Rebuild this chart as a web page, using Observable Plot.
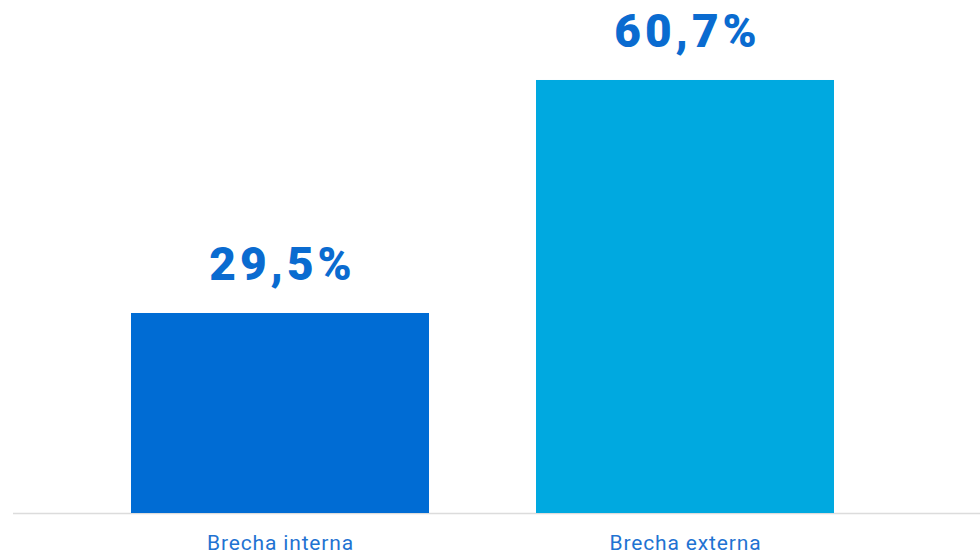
<!DOCTYPE html>
<html>
<head>
<meta charset="utf-8">
<script src="https://cdn.jsdelivr.net/npm/d3@7"></script>
<script src="https://cdn.jsdelivr.net/npm/@observablehq/plot@0.6"></script>
<style>
  html, body { margin: 0; padding: 0; background: #fff; }
  #chart svg { display: block; }
</style>
</head>
<body>
<div id="chart"></div>
<script>
const categories = ["Brecha interna", "Brecha externa"];
const values = [29.5, 60.7];
const labels = ["29,5%", "60,7%"];
const colors = ["#006cd4", "#00a9e0"];

const data = categories.map((c, i) => ({category: c, value: values[i], label: labels[i], color: colors[i]}));

const chart = Plot.plot({
  width: 980,
  height: 559,
  marginLeft: 13,
  marginRight: 0,
  marginTop: 0,
  marginBottom: 46,
  style: {fontFamily: "Roboto, sans-serif", background: "#fff"},
  x: {domain: categories, paddingInner: 0.2635, paddingOuter: 0.3227, align: 0.4466, label: null, tickSize: 0, tickPadding: 22},
  y: {domain: [2.72, 71.41], clamp: true, axis: null},
  marks: [
    Plot.ruleY([0], {stroke: "#dcdcdc", strokeWidth: 1.5}),
    Plot.barY(data, {x: "category", y: "value", fill: "color"}),
    Plot.text(data, {x: "category", y: "value", text: "label", dy: -33, dx: 2, lineAnchor: "bottom", fill: "#0a6bd0", fontSize: 46, fontWeight: 900}),
    Plot.axisX({tickSize: 0, tickPadding: 22, fontSize: 21, color: "#1f73d2", label: null})
  ]
});
d3.select(chart).selectAll('g[aria-label="text"] text').attr("letter-spacing", 4);
d3.select(chart).selectAll('g[aria-label="x-axis tick label"] text').attr("letter-spacing", 0.85);
document.getElementById("chart").appendChild(chart);
</script>
</body>
</html>
